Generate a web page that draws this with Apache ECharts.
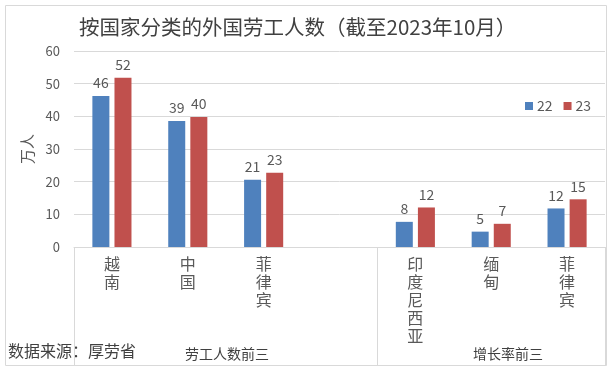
<!DOCTYPE html>
<html>
<head>
<meta charset="utf-8">
<script src="https://cdn.jsdelivr.net/npm/echarts@6/dist/echarts.min.js"></script>
<style>
html,body{margin:0;padding:0;background:#fff;}
#chart{width:614px;height:371px;}
</style>
</head>
<body>
<div id="chart"></div>
<script>
const titleText = '按国家分类的外国劳工人数（截至2023年10月）';
const categories = ['越南', '中国', '菲律宾', '', '印度尼西亚', '缅甸', '菲律宾'];
const series22 = [46.2, 38.6, 20.6, '-', 7.7, 4.7, 11.8];
const series23 = [51.8, 39.8, 22.7, '-', 12.1, 7.1, 14.6];
const seriesNames = ['22', '23'];
const groupLabels = ['劳工人数前三', '增长率前三'];
const yTicks = {min: 0, max: 60, interval: 10};
const yName = '万人';
const sourceText = '数据来源：厚劳省';

const font = '"Noto Sans CJK SC", "Noto Sans", sans-serif';
const chart = echarts.init(document.getElementById('chart'));
const labelStyle = {
  show: true, position: 'top', distance: 6, color: '#595959', fontSize: 14, fontFamily: font,
  formatter: p => Math.round(p.value)
};
chart.setOption({
  animation: false,
  textStyle: {fontFamily: font},
  title: {
    text: titleText, left: 74, top: 12,
    textStyle: {fontSize: 20.5, fontWeight: 'normal', color: '#404040', fontFamily: font}
  },
  legend: {
    data: seriesNames, left: 520, top: 94, icon: 'rect', itemWidth: 8, itemHeight: 8, itemGap: 11,
    textStyle: {color: '#595959', fontSize: 14, fontFamily: font, padding: [0, 0, 0, -1]}
  },
  grid: {left: 74, right: 9, top: 51, bottom: 124, containLabel: false},
  xAxis: {
    type: 'category', data: categories,
    axisLine: {lineStyle: {color: '#d9d9d9'}},
    axisTick: {
      show: true, length: 119, lineStyle: {color: '#d9d9d9'},
      interval: (i) => i === 0 || i === 4
    },
    axisLabel: {
      interval: 0, color: '#595959', fontSize: 16, lineHeight: 18, margin: 8, fontFamily: font,
      verticalAlign: 'top',
      formatter: v => v.split('').join('\n')
    }
  },
  yAxis: {
    type: 'value', min: yTicks.min, max: yTicks.max, interval: yTicks.interval,
    name: yName, nameLocation: 'middle', nameRotate: 90, nameGap: 39,
    nameTextStyle: {color: '#595959', fontSize: 15, fontFamily: font},
    axisLine: {show: false}, axisTick: {show: false},
    axisLabel: {color: '#595959', fontSize: 13, margin: 14, fontFamily: font},
    splitLine: {lineStyle: {color: '#d9d9d9', width: 1}}
  },
  series: [
    {name: seriesNames[0], type: 'bar', data: series22, barWidth: 17, barGap: '30%',
     itemStyle: {color: '#4f81bd'}, label: labelStyle},
    {name: seriesNames[1], type: 'bar', data: series23, barWidth: 17, barGap: '30%',
     itemStyle: {color: '#c0504d'}, label: labelStyle}
  ],
  graphic: [
    {type: 'rect', shape: {x: 5.5, y: 5.5, width: 601, height: 360}, silent: true,
     style: {fill: 'none', stroke: '#d9d9d9', lineWidth: 1}},
    {type: 'text', left: 8, top: 343, silent: true,
     style: {text: sourceText, fill: '#404040', fontSize: 16, fontFamily: font}},
    {type: 'text', left: 185, top: 347, silent: true,
     style: {text: groupLabels[0], fill: '#404040', fontSize: 14, fontFamily: font}},
    {type: 'text', left: 473, top: 347, silent: true,
     style: {text: groupLabels[1], fill: '#404040', fontSize: 14, fontFamily: font}}
  ]
});
</script>
</body>
</html>
